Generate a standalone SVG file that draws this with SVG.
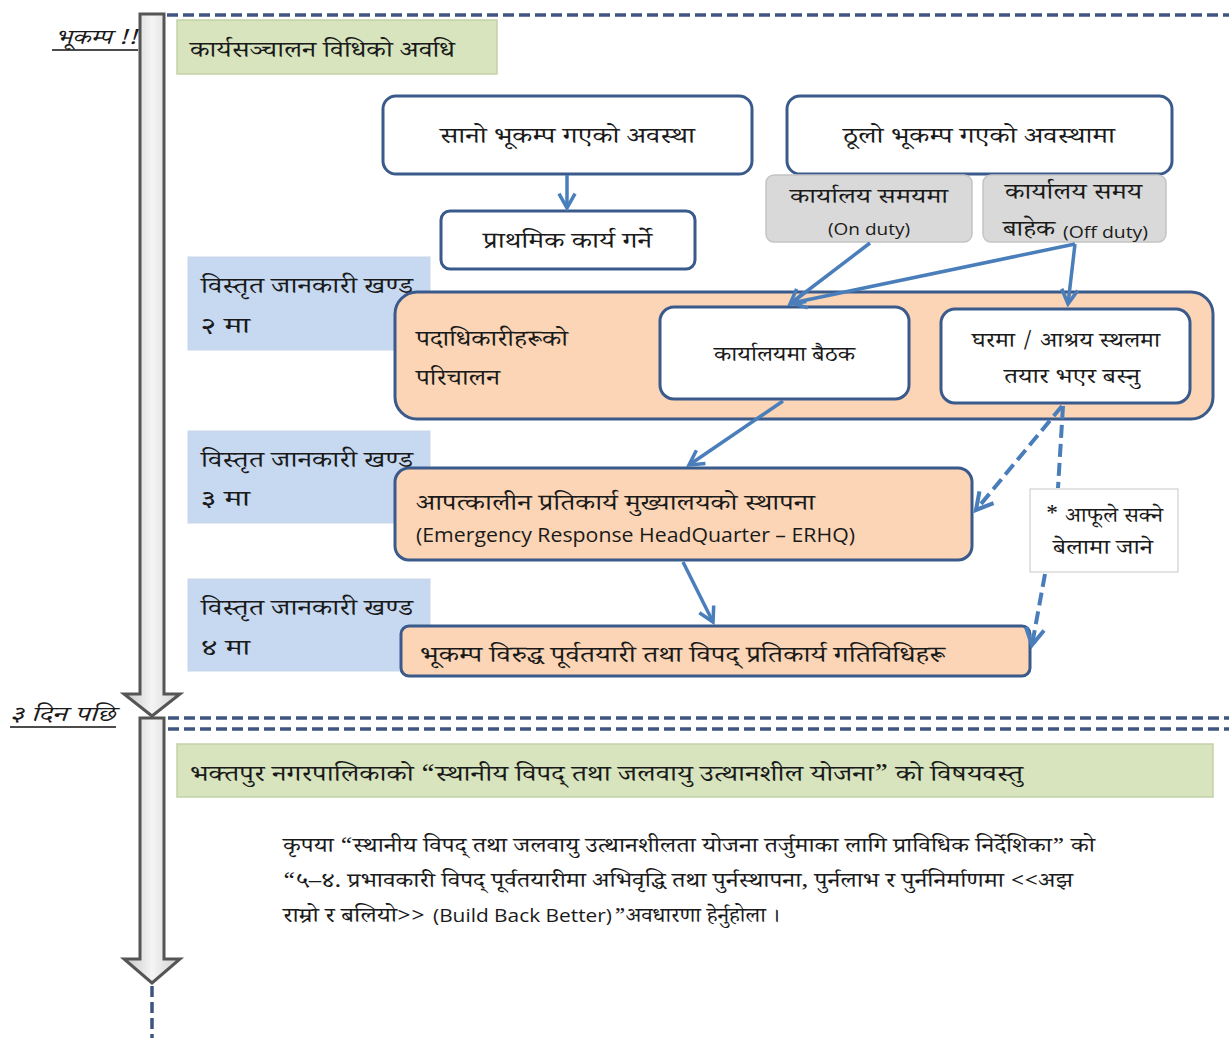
<svg xmlns="http://www.w3.org/2000/svg" width="1229" height="1038" viewBox="0 0 1229 1038">
<style>
text{font-family:"Noto Serif Devanagari","Noto Sans Devanagari","Lohit Devanagari","Noto Sans","DejaVu Sans",sans-serif;fill:#1a1a1a}
.t{font-size:23px}
.s{font-size:21px}
.tm{text-anchor:middle}
.en{font-family:"Open Sans","Noto Sans",sans-serif}
.node{fill:#fff;stroke:#3a5a8c;stroke-width:3}
.org{fill:#fbd5b5;stroke:#3a5a8c;stroke-width:3}
.grn{fill:#d7e4bd;stroke:#c3d1a9;stroke-width:1.5}
.blu{fill:#c6d9f1;stroke:#c9d6e8;stroke-width:1}
.gry{fill:#d9d9d9;stroke:#c4c4c4;stroke-width:1.5}
.con{stroke:#4a7ebb;stroke-width:3.5;fill:none}
.dsh{stroke-width:4;stroke-dasharray:13 6}
.tl{stroke:#3f5581;stroke-width:3.5;stroke-dasharray:11 5;fill:none}
.big{fill:url(#g);stroke:#555;stroke-width:3;stroke-linejoin:miter}
</style>
<defs>
<linearGradient id="g" x1="0" x2="1" y1="0" y2="0">
<stop offset="0" stop-color="#c8c8c8"/><stop offset="0.5" stop-color="#f4f4f4"/><stop offset="1" stop-color="#d0d0d0"/>
</linearGradient>
<marker id="ah" viewBox="0 0 12 12" refX="10" refY="6" markerWidth="5.5" markerHeight="5.5" orient="auto" markerUnits="strokeWidth">
<path d="M1,1 L10,6 L1,11" fill="none" stroke="#4a7ebb" stroke-width="2.2"/>
</marker>
</defs>

<g id="timeline">
<polygon class="big" points="140,14 164,14 164,694 180,694 152,716 124,694 140,694"/>
<polygon class="big" points="140,718 164,718 164,959 180,959 152,983 124,959 140,959"/>
<line class="tl" x1="152" y1="986" x2="152" y2="1038"/>
<line class="tl" x1="167" y1="15" x2="1229" y2="15"/>
<line class="tl" x1="168" y1="718" x2="1229" y2="718"/>
<line class="tl" x1="168" y1="729" x2="1229" y2="729"/>
<text x="55" y="44" font-size="21" font-style="italic" textLength="82" lengthAdjust="spacingAndGlyphs">भूकम्प !!</text>
<line x1="52" y1="50" x2="138" y2="50" stroke="#111" stroke-width="1.5"/>
<text x="10" y="721" font-size="21" font-style="italic" textLength="105" lengthAdjust="spacingAndGlyphs">३ दिन पछि</text>
<line x1="10" y1="727" x2="116" y2="727" stroke="#111" stroke-width="1.5"/>
</g>

<g id="phase1">
<rect class="grn" x="177" y="20" width="320" height="54"/>
<text class="t" x="190" y="57" textLength="265" lengthAdjust="spacingAndGlyphs">कार्यसञ्चालन विधिको अवधि</text>
</g>

<g id="small-quake">
<rect class="node" x="383" y="96" width="369" height="78" rx="13"/>
<text class="t" x="440" y="143" textLength="255" lengthAdjust="spacingAndGlyphs">सानो भूकम्प गएको अवस्था</text>
</g>
<g id="big-quake">
<rect class="node" x="787" y="96" width="385" height="78" rx="13"/>
<text class="t" x="843" y="143" textLength="272" lengthAdjust="spacingAndGlyphs">ठूलो भूकम्प गएको अवस्थामा</text>
</g>
<g id="primary">
<rect class="node" x="441" y="211" width="254" height="58" rx="9"/>
<text class="t" x="483" y="248" textLength="169" lengthAdjust="spacingAndGlyphs">प्राथमिक कार्य गर्ने</text>
</g>
<g id="on-duty">
<rect class="gry" x="766" y="175" width="206" height="67" rx="8"/>
<text x="790" y="203" font-size="21" textLength="158" lengthAdjust="spacingAndGlyphs">कार्यालय समयमा</text>
<text class="en" x="828" y="235" font-size="16" textLength="82" lengthAdjust="spacingAndGlyphs">(On duty)</text>
</g>
<g id="off-duty">
<rect class="gry" x="983" y="175" width="183" height="67" rx="8"/>
<text class="t" x="1005" y="199" textLength="137" lengthAdjust="spacingAndGlyphs">कार्यालय समय</text>
<text class="t" x="1003" y="236" textLength="52" lengthAdjust="spacingAndGlyphs">बाहेक</text>
<text class="en" x="1063" y="238" font-size="17" textLength="85" lengthAdjust="spacingAndGlyphs">(Off duty)</text>
</g>

<g id="info2">
<rect class="blu" x="188" y="257" width="242" height="93"/>
<text class="t" x="201" y="293" textLength="212" lengthAdjust="spacingAndGlyphs">विस्तृत जानकारी खण्ड</text>
<text class="t" x="201" y="333" textLength="49" lengthAdjust="spacingAndGlyphs">२ मा</text>
</g>
<g id="info3">
<rect class="blu" x="188" y="431" width="242" height="92"/>
<text class="t" x="201" y="467" textLength="212" lengthAdjust="spacingAndGlyphs">विस्तृत जानकारी खण्ड</text>
<text class="t" x="201" y="506" textLength="49" lengthAdjust="spacingAndGlyphs">३ मा</text>
</g>
<g id="info4">
<rect class="blu" x="188" y="579" width="242" height="92"/>
<text class="t" x="201" y="615" textLength="212" lengthAdjust="spacingAndGlyphs">विस्तृत जानकारी खण्ड</text>
<text class="t" x="201" y="655" textLength="49" lengthAdjust="spacingAndGlyphs">४ मा</text>
</g>

<g id="mobilisation">
<rect class="org" x="395" y="292" width="818" height="127" rx="22"/>
<text class="t" x="416" y="346" textLength="152" lengthAdjust="spacingAndGlyphs">पदाधिकारीहरूको</text>
<text class="t" x="416" y="385" textLength="84" lengthAdjust="spacingAndGlyphs">परिचालन</text>
</g>
<g id="office-meeting">
<rect class="node" x="660" y="307" width="249" height="92" rx="14"/>
<text class="s" x="714" y="361" textLength="141" lengthAdjust="spacingAndGlyphs">कार्यालयमा बैठक</text>
</g>
<g id="home-ready">
<rect class="node" x="941" y="309" width="249" height="94" rx="14"/>
<text class="s" x="972" y="347" textLength="188" lengthAdjust="spacingAndGlyphs">घरमा / आश्रय स्थलमा</text>
<text class="s" x="1004" y="383" textLength="136" lengthAdjust="spacingAndGlyphs">तयार भएर बस्नु</text>
</g>

<g id="erhq">
<rect class="org" x="395" y="468" width="577" height="92" rx="14"/>
<text class="t" x="416" y="510" textLength="399" lengthAdjust="spacingAndGlyphs">आपत्कालीन प्रतिकार्य मुख्यालयको स्थापना</text>
<text class="en" x="416" y="542" font-size="20" textLength="439" lengthAdjust="spacingAndGlyphs">(Emergency Response HeadQuarter – ERHQ)</text>
</g>
<g id="activities">
<rect class="org" x="401" y="626" width="629" height="50" rx="8"/>
<text class="t" x="420" y="662" textLength="525" lengthAdjust="spacingAndGlyphs">भूकम्प विरुद्ध पूर्वतयारी तथा विपद् प्रतिकार्य गतिविधिहरू</text>
</g>
<g id="note">
<rect x="1030" y="489" width="148" height="83" fill="#fff" stroke="#c8c8c8" stroke-width="1"/>
<text class="s" x="1045" y="522" textLength="118" lengthAdjust="spacingAndGlyphs">* आफूले सक्ने</text>
<text class="s" x="1053" y="554" textLength="100" lengthAdjust="spacingAndGlyphs">बेलामा जाने</text>
</g>

<g id="phase2">
<rect class="grn" x="177" y="744" width="1036" height="53"/>
<text class="t" x="190" y="781" textLength="833" lengthAdjust="spacingAndGlyphs">भक्तपुर नगरपालिकाको “स्थानीय विपद् तथा जलवायु उत्थानशील योजना” को विषयवस्तु</text>
</g>
<g id="reference-note">
<text x="283" y="852" font-size="20" textLength="812" lengthAdjust="spacingAndGlyphs">कृपया “स्थानीय विपद् तथा जलवायु उत्थानशीलता योजना तर्जुमाका लागि प्राविधिक निर्देशिका” को</text>
<text x="283" y="887" font-size="20" textLength="790" lengthAdjust="spacingAndGlyphs">“५–४. प्रभावकारी विपद् पूर्वतयारीमा अभिवृद्धि तथा पुर्नस्थापना, पुर्नलाभ र पुर्ननिर्माणमा &lt;&lt;अझ</text>
<text x="283" y="922" font-size="20" textLength="142" lengthAdjust="spacingAndGlyphs">राम्रो र बलियो&gt;&gt;</text>
<text class="en" x="433" y="922" font-size="18" textLength="179" lengthAdjust="spacingAndGlyphs">(Build Back Better)</text>
<text x="614" y="922" font-size="20" textLength="166" lengthAdjust="spacingAndGlyphs">”अवधारणा हेर्नुहोला ।</text>
</g>

<g id="connectors">
<line class="con" x1="567" y1="175" x2="567" y2="208" marker-end="url(#ah)"/>
<line class="con" x1="870" y1="243" x2="790" y2="304" marker-end="url(#ah)"/>
<line class="con" x1="1075" y1="244" x2="792" y2="303" marker-end="url(#ah)"/>
<line class="con" x1="1075" y1="244" x2="1068" y2="304" marker-end="url(#ah)"/>
<line class="con" x1="783" y1="401" x2="689" y2="465" marker-end="url(#ah)"/>
<line class="con" x1="683" y1="562" x2="713" y2="622" marker-end="url(#ah)"/>
<line class="con dsh" x1="1062" y1="406" x2="976" y2="510" marker-end="url(#ah)"/>
<line class="con dsh" x1="1063" y1="406" x2="1058" y2="488"/>
<line class="con dsh" x1="1045" y1="574" x2="1032" y2="645" marker-end="url(#ah)"/>
</g>
</svg>
